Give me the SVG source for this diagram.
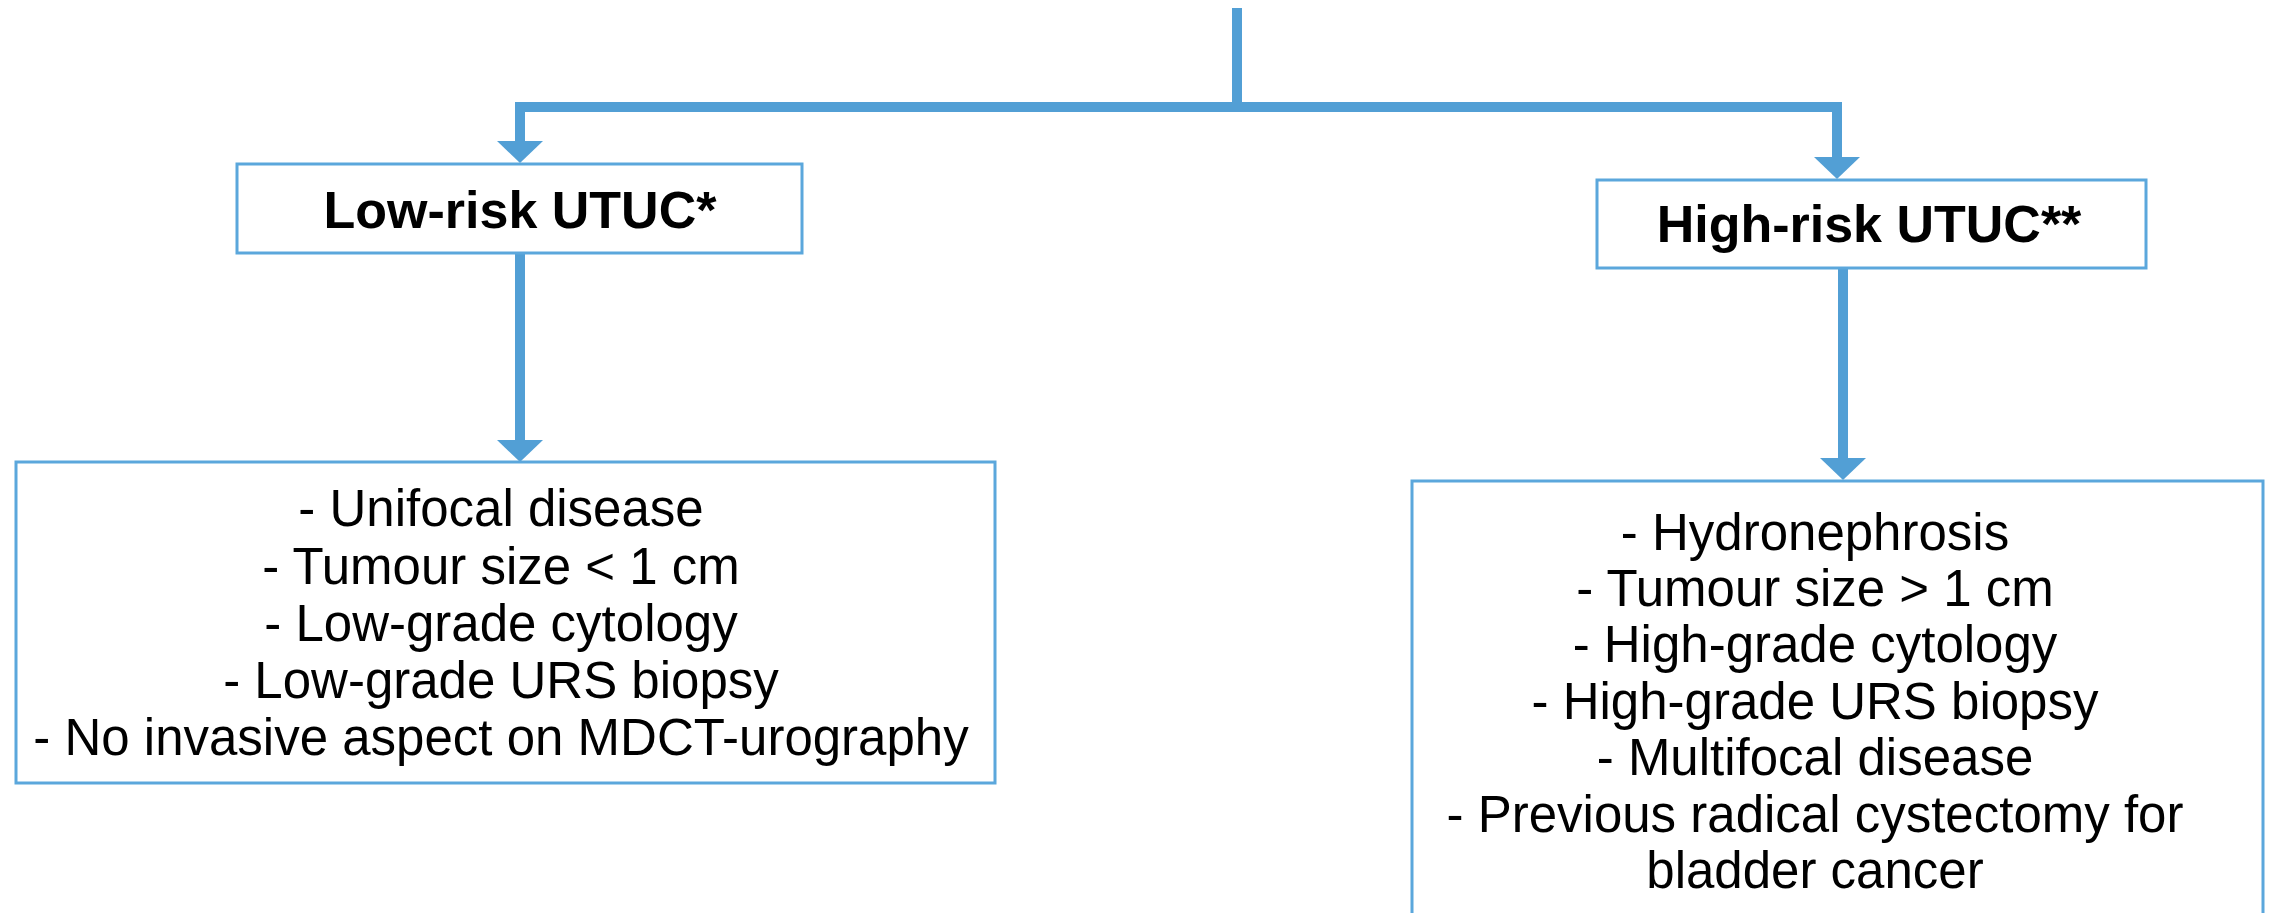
<svg xmlns="http://www.w3.org/2000/svg" width="2272" height="913" viewBox="0 0 2272 913">
<style>
.box{fill:#ffffff;stroke:#5ba7dc;stroke-width:3}
.conn{fill:none;stroke:#529fd5;stroke-width:10;stroke-linejoin:miter;stroke-linecap:butt}
.title{font-family:"Liberation Sans",Arial,sans-serif;font-weight:bold;font-size:52px;fill:#000;text-anchor:middle}
.body{font-family:"Liberation Sans",Arial,sans-serif;font-size:51px;fill:#000;text-anchor:middle}
</style>
<defs>
<marker id="arr" viewBox="0 0 22 46" refX="0" refY="23" markerWidth="22" markerHeight="46" markerUnits="userSpaceOnUse" orient="auto-start-reverse">
<path d="M0,0 L22,23 L0,46 Z" fill="#529fd5"/>
</marker>
</defs>
<rect width="2272" height="913" fill="#ffffff"/>
<g id="connectors">
<path class="conn" d="M1237,8 V107"/>
<path class="conn" d="M520,141 V107 H1837 V157" marker-start="url(#arr)" marker-end="url(#arr)"/>
<path class="conn" d="M520,253 V440" marker-end="url(#arr)"/>
<path class="conn" d="M1843,268 V458" marker-end="url(#arr)"/>
</g>
<g id="low-risk">
<rect class="box" x="237" y="164" width="565" height="89"/>
<text class="title" x="520" y="228">Low-risk UTUC*</text>
</g>
<g id="high-risk">
<rect class="box" x="1597" y="180" width="549" height="88"/>
<text class="title" x="1869" y="242">High-risk UTUC**</text>
</g>
<g id="low-criteria">
<rect class="box" x="16" y="462" width="979" height="321"/>
<text class="body" x="501" y="526">- Unifocal disease</text>
<text class="body" x="501" y="584">- Tumour size &lt; 1 cm</text>
<text class="body" x="501" y="641">- Low-grade cytology</text>
<text class="body" x="501" y="698">- Low-grade URS biopsy</text>
<text class="body" x="501" y="755">- No invasive aspect on MDCT-urography</text>
</g>
<g id="high-criteria">
<rect class="box" x="1412" y="481" width="851" height="460"/>
<text class="body" x="1815" y="550">- Hydronephrosis</text>
<text class="body" x="1815" y="606">- Tumour size &gt; 1 cm</text>
<text class="body" x="1815" y="662">- High-grade cytology</text>
<text class="body" x="1815" y="719">- High-grade URS biopsy</text>
<text class="body" x="1815" y="775">- Multifocal disease</text>
<text class="body" x="1815" y="832">- Previous radical cystectomy for</text>
<text class="body" x="1815" y="888">bladder cancer</text>
</g>
</svg>
